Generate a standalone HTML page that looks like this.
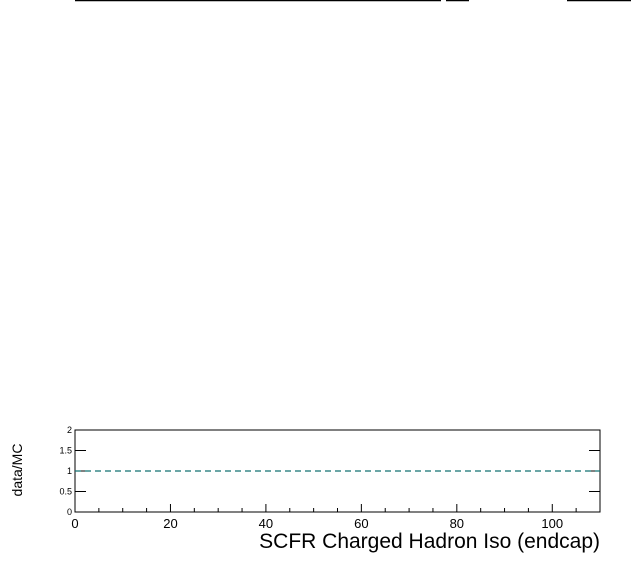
<!DOCTYPE html>
<html><head><meta charset="utf-8"><style>
body{margin:0;background:#fff;width:631px;height:572px;overflow:hidden;font-family:"Liberation Sans",sans-serif}
</style></head><body>
<svg id="c" width="631" height="572" style="position:absolute;left:0;top:0">
<line x1="75" y1="0.5" x2="441" y2="0.5" stroke="#000" stroke-width="1.5"/>
<line x1="446" y1="0.5" x2="469" y2="0.5" stroke="#000" stroke-width="1.5"/>
<line x1="567" y1="0.5" x2="631" y2="0.5" stroke="#000" stroke-width="1.5"/>
<rect x="75" y="430" width="525" height="82" fill="none" stroke="#000" stroke-width="1"/>
<g id="ax"></g>
<text x="600" y="548" text-anchor="end" font-size="21">SCFR Charged Hadron Iso (endcap)</text>
<text transform="translate(22,470) rotate(-90)" text-anchor="middle" font-size="14">data/MC</text>
</svg>
<script>
const xTicks=[0,20,40,60,80,100];
const yTicks=[0,0.5,1,1.5,2];
const yTickLabels=["0","0.5","1","1.5","2"];
const refValue=[1];
const X0=75,X1=600,Y0=512,Y1=430,xmax=110,ymax=2;
const sx=v=>X0+(X1-X0)*v/xmax, sy=v=>Y0-(Y0-Y1)*v/ymax;
const g=document.getElementById('ax'),NS="http://www.w3.org/2000/svg";
function mk(t,a){const e=document.createElementNS(NS,t);for(const k in a)e.setAttribute(k,a[k]);g.appendChild(e);return e;}
for(let v=0;v<=xmax;v+=5){const x=sx(v),L=v%20===0?8:4;
 const t=mk('line',{x1:x,y1:Y0,x2:x,y2:Y0-L,stroke:'#000'});
 
 }
xTicks.forEach(v=>{const t=mk('text',{x:sx(v),y:Y0+16,'text-anchor':'middle','font-size':13});t.textContent=v;
 
 });
yTicks.forEach((v,i)=>{const y=sy(v),L=11;
 const a=mk('line',{x1:X0,y1:y,x2:X0+L,y2:y,stroke:'#000'});
 
 
 const b=mk('line',{x1:X1,y1:y,x2:X1-L,y2:y,stroke:'#000'});
 
 
 const t=mk('text',{x:X0-3,y:y+3,'text-anchor':'end','font-size':9});t.textContent=yTickLabels[i];
 
 });
refValue.forEach(v=>{const l=mk('line',{x1:X0,y1:sy(v),x2:X1,y2:sy(v),stroke:'#107070','stroke-width':1.3,'stroke-dasharray':'6,4'});
 
 });
</script>
</body></html>
